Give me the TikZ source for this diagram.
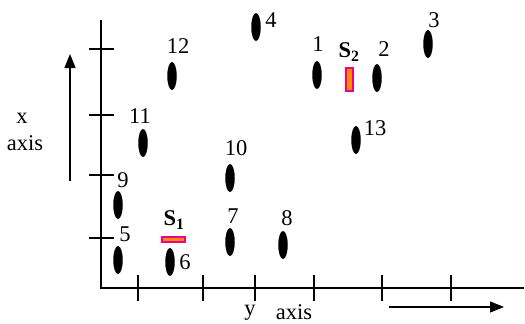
\documentclass[tikz,border=0pt]{standalone}
\usepackage{fontspec}
\setmainfont{Liberation Serif}
\usetikzlibrary{shapes.geometric,arrows.meta}
\definecolor{sensorfill}{RGB}{255,140,0}
\begin{document}
\begin{tikzpicture}[x=1pt,y=-1pt,
  axisline/.style={line width=1.6pt,black},
  tickline/.style={line width=1.6pt,black},
  dirarrow/.style={line width=1.3pt,-{Triangle[length=14pt,width=11pt]}},
  dot/.style={ellipse,fill=black,draw=none,minimum width=9.5pt,minimum height=28pt,inner sep=0pt},
  sensor/.style={rectangle,fill=sensorfill,draw=magenta,line width=2pt,inner sep=0pt},
  lbl/.style={font=\fontsize{22.5}{26}\selectfont,inner sep=0pt,anchor=center},
]
\useasboundingbox (0,0) rectangle (525,324);
% axes
\coordinate (o) at (101,288);
\coordinate (ytop) at (101,20);
\coordinate (xend) at (524,288);
\draw[axisline] (ytop) -- (o) -- (xend);
% ticks on horizontal axis
\foreach \t [count=\i] in {138,203,255,314,382,451}{
  \coordinate (ht\i a) at (\t,275);
  \coordinate (ht\i b) at (\t,301);
  \draw[tickline] (ht\i a) -- (ht\i b);
}
% ticks on vertical axis
\foreach \t [count=\i] in {49,115,175,238}{
  \coordinate (vt\i a) at (89,\t);
  \coordinate (vt\i b) at (114,\t);
  \draw[tickline] (vt\i a) -- (vt\i b);
}
% direction arrows
\coordinate (xa0) at (70,181);
\coordinate (xa1) at (70,54);
\draw[dirarrow] (xa0) -- (xa1);
\coordinate (ya0) at (389,307);
\coordinate (ya1) at (504,307);
\draw[dirarrow] (ya0) -- (ya1);
% axis labels
\node[lbl] (xl) at (22,118) {x};
\node[lbl] (xl2) at (25,143) {axis};
\node[lbl] (yl) at (250,313) {y};
\node[lbl] (yl2) at (294,312) {axis};
% nodes
\node[dot] (n1) at (317,75) {};
\node[dot] (n2) at (377,78) {};
\node[dot] (n3) at (428,44) {};
\node[dot] (n4) at (256,27) {};
\node[dot] (n5) at (118,260) {};
\node[dot] (n6) at (170,262) {};
\node[dot] (n7) at (230,242) {};
\node[dot] (n8) at (283,245) {};
\node[dot] (n9) at (118,205) {};
\node[dot] (n10) at (230,178) {};
\node[dot] (n11) at (143,143) {};
\node[dot] (n12) at (172,76) {};
\node[dot] (n13) at (356,140) {};
% labels
\node[lbl] (l1) at (318,44) {1};
\node[lbl] (l2) at (384,49) {2};
\node[lbl] (l3) at (434,20) {3};
\node[lbl] (l4) at (271,20) {4};
\node[lbl] (l5) at (125,234) {5};
\node[lbl] (l6) at (185,262) {6};
\node[lbl] (l7) at (233,216) {7};
\node[lbl] (l8) at (287,218) {8};
\node[lbl] (l9) at (123,180) {9};
\node[lbl] (l10) at (236,148) {10};
\node[lbl] (l11) at (140,116) {11};
\node[lbl] (l12) at (178,46) {12};
\node[lbl] (l13) at (375,128) {13};
% sensors
\node[sensor,minimum width=7pt,minimum height=23pt] (s2) at (349.5,79.5) {};
\node[sensor,minimum width=23pt,minimum height=5pt] (s1) at (173.5,239) {};
\node[lbl] (ls2) at (349,52) {\textbf{S\textsubscript{2}}};
\node[lbl] (ls1) at (174,220) {\textbf{S\textsubscript{1}}};
\end{tikzpicture}
\end{document}
